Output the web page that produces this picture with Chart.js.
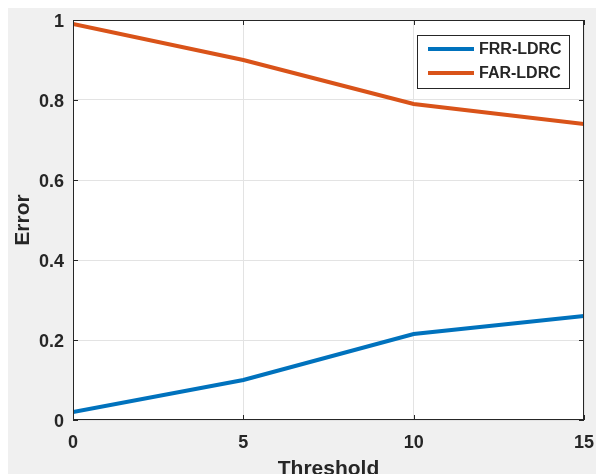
<!DOCTYPE html>
<html>
<head>
<meta charset="utf-8">
<script src="https://cdn.jsdelivr.net/npm/chart.js@4/dist/chart.umd.min.js"></script>
<style>
html,body{margin:0;padding:0;background:#ffffff;}
#wrap{position:relative;width:596px;height:474px;}
canvas{display:block;}
</style>
</head>
<body>
<div id="wrap"><canvas id="c" width="596" height="474"></canvas></div>
<script>
const thresholds = [0, 5, 10, 15];
const frrLDRC = [0.02, 0.10, 0.215, 0.26];
const farLDRC = [0.99, 0.90, 0.79, 0.74];
const seriesNames = ['FRR-LDRC', 'FAR-LDRC'];
const xTicks = [0, 5, 10, 15];
const yTicks = [0, 0.2, 0.4, 0.6, 0.8, 1];
const xTitle = 'Threshold';
const yTitle = 'Error';

const BLUE = '#0072BD';
const ORANGE = '#D95319';
const FONT = '"Liberation Sans", Arial, sans-serif';

const toPts = (xs, ys) => xs.map((x, i) => ({x: x, y: ys[i]}));

const framePlugin = {
  id: 'frame',
  beforeDraw(chart) {
    const {ctx, chartArea: a} = chart;
    ctx.save();
    ctx.fillStyle = '#f0f0f0';
    ctx.fillRect(8, 8, chart.width - 8, chart.height - 8);
    ctx.fillStyle = '#ffffff';
    ctx.fillRect(a.left, a.top, a.right - a.left, a.bottom - a.top);
    ctx.restore();
  },
  afterDraw(chart) {
    const {ctx, chartArea: a, scales} = chart;
    ctx.save();
    ctx.strokeStyle = '#262626';
    ctx.lineWidth = 1;
    ctx.strokeRect(Math.round(a.left) + 0.5, Math.round(a.top) + 0.5,
      Math.round(a.right - a.left) - 1, Math.round(a.bottom - a.top) - 1);
    ctx.beginPath();
    xTicks.forEach(v => {
      const px = Math.round(scales.x.getPixelForValue(v)) + 0.5;
      ctx.moveTo(px, a.bottom); ctx.lineTo(px, a.bottom - 5);
      ctx.moveTo(px, a.top); ctx.lineTo(px, a.top + 5);
    });
    yTicks.forEach(v => {
      const py = Math.round(scales.y.getPixelForValue(v)) + 0.5;
      ctx.moveTo(a.left, py); ctx.lineTo(a.left + 5, py);
      ctx.moveTo(a.right, py); ctx.lineTo(a.right - 5, py);
    });
    ctx.stroke();
    const bx = 417.5, by = 35.5, bw = 152, bh = 53;
    ctx.fillStyle = '#ffffff';
    ctx.fillRect(bx, by, bw, bh);
    ctx.strokeStyle = '#262626';
    ctx.strokeRect(bx, by, bw, bh);
    const rows = [49, 73];
    chart.data.datasets.forEach((ds, i) => {
      ctx.strokeStyle = ds.borderColor;
      ctx.lineWidth = 4;
      ctx.beginPath();
      ctx.moveTo(428, rows[i]); ctx.lineTo(474, rows[i]);
      ctx.stroke();
      ctx.fillStyle = '#262626';
      ctx.font = 'bold 16px ' + FONT;
      ctx.textBaseline = 'middle';
      ctx.textAlign = 'left';
      ctx.fillText(ds.label, 479, rows[i] + 1);
    });
    ctx.restore();
  }
};

new Chart(document.getElementById('c'), {
  type: 'line',
  data: {
    datasets: [
      {label: seriesNames[0], data: toPts(thresholds, frrLDRC), borderColor: BLUE, backgroundColor: BLUE, borderWidth: 4, pointRadius: 0, tension: 0, fill: false},
      {label: seriesNames[1], data: toPts(thresholds, farLDRC), borderColor: ORANGE, backgroundColor: ORANGE, borderWidth: 4, pointRadius: 0, tension: 0, fill: false}
    ]
  },
  options: {
    responsive: false,
    animation: false,
    layout: {padding: {left: 0, top: 20, right: 12, bottom: 0}},
    plugins: {legend: {display: false}, tooltip: {enabled: false}},
    scales: {
      x: {
        type: 'linear', min: 0, max: 15,
        afterBuildTicks: s => { s.ticks = xTicks.map(v => ({value: v})); },
        afterFit: s => { s.height = 54; s.paddingLeft = 0; s.paddingRight = 0; },
        grid: {color: '#e3e3e3', drawTicks: false, lineWidth: 1},
        border: {display: false},
        ticks: {color: '#262626', font: {family: FONT, size: 18, weight: 'bold'}, padding: 12, maxRotation: 0},
        title: {display: true, text: xTitle, color: '#262626', font: {family: FONT, size: 21, weight: 'bold'}, padding: {top: 0, bottom: -8}}
      },
      y: {
        type: 'linear', min: 0, max: 1,
        afterBuildTicks: s => { s.ticks = yTicks.map(v => ({value: v})); },
        afterFit: s => { s.width = 73; s.paddingTop = 0; s.paddingBottom = 0; },
        grid: {color: '#e3e3e3', drawTicks: false, lineWidth: 1},
        border: {display: false},
        ticks: {color: '#262626', font: {family: FONT, size: 18, weight: 'bold'}, padding: 9, labelOffset: 2,
          callback: v => String(Math.round(v * 10) / 10)},
        title: {display: true, text: yTitle, color: '#262626', font: {family: FONT, size: 21, weight: 'bold'}, padding: {top: 11, bottom: 0}}
      }
    }
  },
  plugins: [framePlugin]
});
</script>
</body>
</html>
